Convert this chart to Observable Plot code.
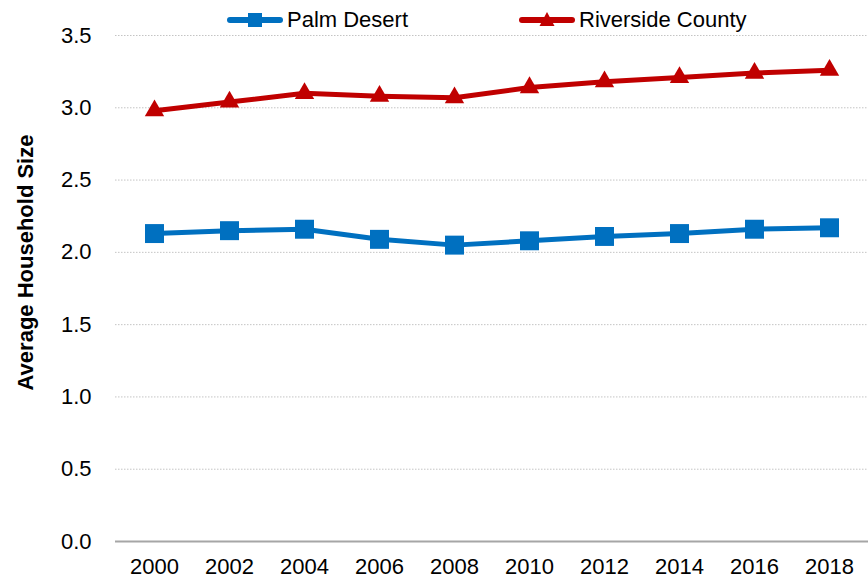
<!DOCTYPE html>
<html><head><meta charset="utf-8">
<script src="https://cdn.jsdelivr.net/npm/d3@7"></script>
<script src="https://cdn.jsdelivr.net/npm/@observablehq/plot@0.6"></script>
<style>
body{margin:0;background:#fff;}
#wrap{position:relative;width:868px;height:582px;}
.leg{position:absolute;top:7px;height:26px;display:flex;align-items:center;font-family:"Liberation Sans Narrow","Arial Narrow","Liberation Sans",sans-serif;font-size:22px;color:#000;line-height:26px;}
.leg svg{display:block;margin-right:3px;}
</style></head><body>
<div id="wrap"></div>
<script>
const years = ["2000","2002","2004","2006","2008","2010","2012","2014","2016","2018"];
const palmDesert = [2.13,2.15,2.16,2.09,2.05,2.08,2.11,2.13,2.16,2.17];
const riverside = [2.98,3.04,3.10,3.08,3.07,3.14,3.18,3.21,3.24,3.26];
const seriesNames = ["Palm Desert","Riverside County"];
const colors = ["#0070C0","#C00000"];
const yTicks = [0,0.5,1.0,1.5,2.0,2.5,3.0,3.5];
const yLabel = "Average Household Size";

const data = [];
years.forEach((y,i)=>{
  data.push({year:y, series:seriesNames[0], value:palmDesert[i]});
  data.push({year:y, series:seriesNames[1], value:riverside[i]});
});
const fontFam = '"Liberation Sans Narrow","Arial Narrow","Liberation Sans",sans-serif';

const chart = Plot.plot({
  width:868, height:582, marginTop:35, marginBottom:41, marginLeft:115, marginRight:0,
  style:{fontFamily:fontFam, fontSize:"22px", color:"#000", background:"#fff", overflow:"visible"},
  x:{type:"point", domain:years, padding:0.5, label:null},
  y:{domain:[0,3.5], label:null},
  color:{domain:seriesNames, range:colors},
  marks:[
    Plot.gridY(yTicks.filter(d=>d>0), {stroke:"#c4c4c4", strokeOpacity:1, strokeDasharray:"1.5,1.5", strokeWidth:1}),
    Plot.ruleY([0], {stroke:"#a6a6a6", strokeWidth:2}),
    Plot.axisY({ticks:yTicks, tickSize:0, tickPadding:24, tickFormat:d3.format(".1f"), label:null, fontSize:22}),
    Plot.axisX({tickSize:0, tickPadding:17, label:null, fontSize:22}),
    Plot.line(data,{x:"year", y:"value", z:"series", stroke:"series", strokeWidth:5}),
    Plot.dot(data.filter(d=>d.series===seriesNames[0]),{x:"year", y:"value", fill:colors[0], symbol:"square", r:10.7, stroke:null}),
    Plot.dot(data.filter(d=>d.series===seriesNames[1]),{x:"year", y:"value", fill:colors[1], symbol:"triangle", r:7.2, stroke:null}),
    Plot.text([yLabel],{frameAnchor:"left", rotate:-90, textAnchor:"middle", dx:-90, dy:-26, fontWeight:"bold", fontSize:22, fill:"#000"})
  ]
});
const wrap = document.getElementById("wrap");
wrap.appendChild(chart);

// legend
const legPos = [226, 518];
seriesNames.forEach((name,i)=>{
  const div = document.createElement("div");
  div.className = "leg";
  div.style.left = legPos[i] + "px";
  const sym = i===0
    ? `<rect x="22" y="6" width="14" height="14" fill="${colors[i]}"/>`
    : `<path d="M29,5 L36.5,19 L21.5,19 Z" fill="${colors[i]}"/>`;
  div.innerHTML = `<svg width="58" height="26"><line x1="4" y1="13" x2="54" y2="13" stroke="${colors[i]}" stroke-width="6" stroke-linecap="round"/>${sym}</svg><span>${name}</span>`;
  wrap.appendChild(div);
});
</script>
</body></html>
